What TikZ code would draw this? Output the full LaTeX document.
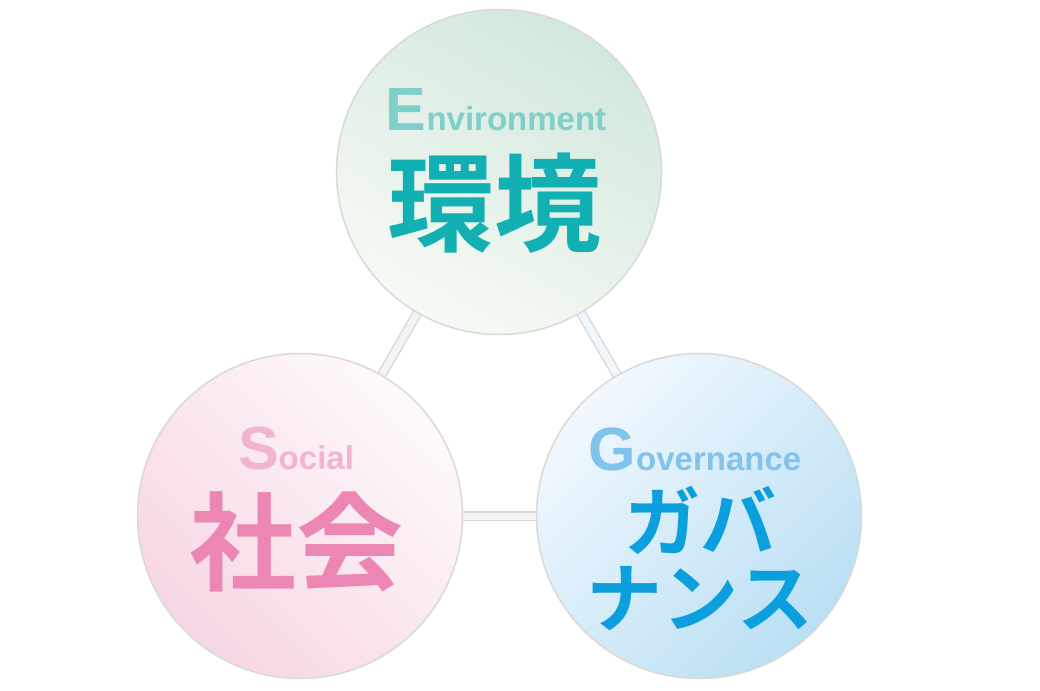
\documentclass[tikz,border=0pt]{standalone}
\usepackage{fontspec}
\setmainfont{Liberation Sans}
\newfontfamily\jpfont{Noto Sans CJK JP}[BoldFont={Noto Sans CJK JP Bold}]
\usetikzlibrary{positioning, backgrounds}
\definecolor{ringgrey}{HTML}{D9D9D9}
\definecolor{linkfill}{HTML}{F1F4F7}
\definecolor{envdark}{HTML}{D2E8DC}
\definecolor{envlight}{HTML}{F6FAF4}
\definecolor{socdark}{HTML}{F7D6E4}
\definecolor{soclight}{HTML}{FDF9FB}
\definecolor{govdark}{HTML}{BADFF4}
\definecolor{govlight}{HTML}{F1F8FD}
\definecolor{envmain}{HTML}{12AFB3}
\definecolor{envsoft}{HTML}{7FCFCB}
\definecolor{socmain}{HTML}{EC87B3}
\definecolor{socsoft}{HTML}{F3B4CF}
\definecolor{govmain}{HTML}{0BA0DD}
\definecolor{govsoft}{HTML}{80C3EB}
% large initial, then the rest of the word
\newcommand{\initword}[2]{{\fontsize{61}{61}\selectfont #1}{\fontsize{33}{33}\selectfont #2}}

\begin{document}
\begin{tikzpicture}[
  x=1pt, y=-1pt,
  circ/.style={circle, draw=ringgrey, line width=1.5pt, minimum size=325pt,
               inner sep=0pt},
  link/.style={draw=ringgrey, line width=1.5pt, double=linkfill,
               double distance=7pt},
  head/.style={font=\bfseries, inner sep=0pt, anchor=base},
  kanji/.style={font=\jpfont\bfseries\fontsize{107}{107}\selectfont,
                inner sep=0pt},
  kana/.style={font=\jpfont\bfseries\fontsize{76}{76}\selectfont,
               inner sep=0pt, align=center}
]
  \useasboundingbox (0,0) rectangle (1040,690);
  \node[circ, top color=envdark, bottom color=envlight, shading angle=-30]
    (env) at (499,172) {};
  \node[circ, top color=soclight, bottom color=socdark, shading angle=-45]
    (soc) at (300,516) {};
  \node[circ, top color=govlight, bottom color=govdark, shading angle=45]
    (gov) at (699,516) {};
  \begin{scope}[on background layer]
    \draw[link] (env.center) -- (soc.center);
    \draw[link, double=govlight] (env.center) -- (gov.center);
    \draw[link] (soc.center) -- (gov.center);
  \end{scope}
  \node[head, envsoft] (envword) at (496,130) {\initword{E}{nvironment}};
  \node[kanji, envmain] (envjp) at (494,203) {環境};
  \node[head, socsoft] (socword) at (296,469) {\initword{S}{ocial}};
  \node[kanji, socmain] (socjp) at (296,542) {社会};
  \node[head, govsoft] (govword) at (695,470) {\initword{G}{overnance}};
  \node[kana, govmain] (govjp) at (700,558) {ガバ\\ナンス};
\end{tikzpicture}
\end{document}
